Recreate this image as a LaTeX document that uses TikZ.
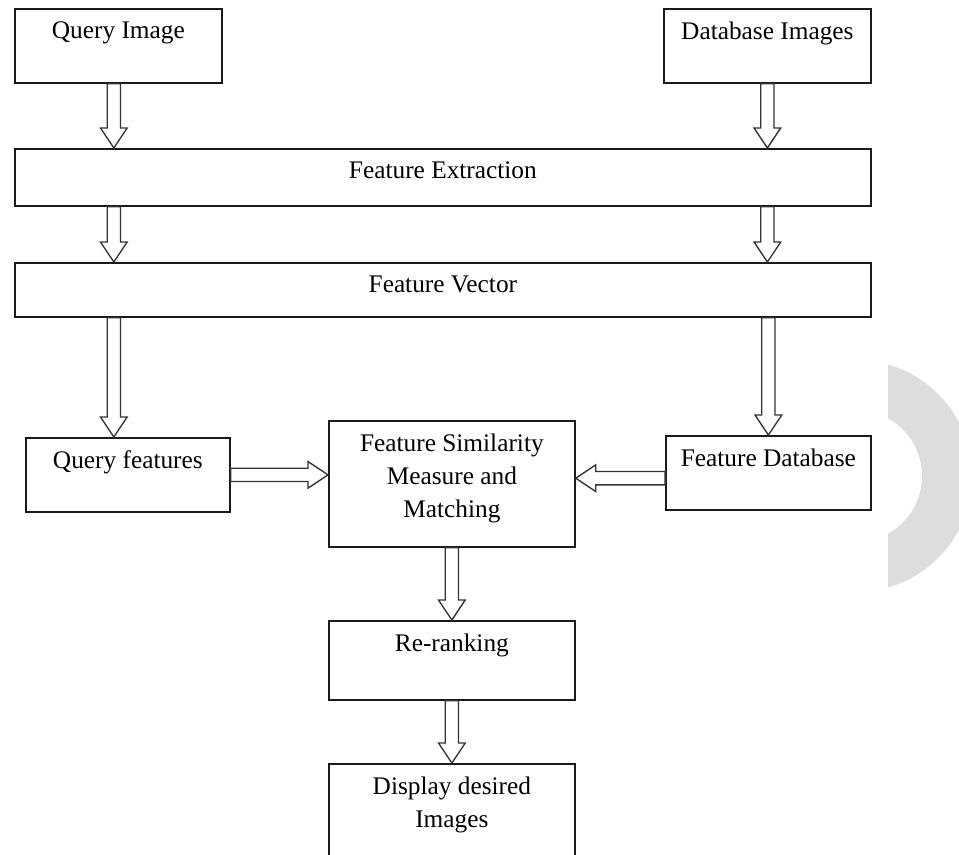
\documentclass[tikz,border=0pt]{standalone}
\usepackage{fontspec}
\setmainfont{Liberation Serif}
\usepackage{tikz}
\usetikzlibrary{calc,positioning}
\definecolor{boxline}{HTML}{1A1A1A}
\definecolor{arrowline}{HTML}{333333}
\definecolor{ring}{HTML}{DDDDDD}
\tikzset{
  box/.style    ={draw=boxline,line width=1.3pt,fill=white,anchor=north west,inner sep=0pt},
  toptext/.style={label={[anchor=north,inner sep=0pt,yshift=-10pt,align=center,
                   font=\fontsize{19}{25}\selectfont]north:#1}},
  hollow/.style ={draw=arrowline,line width=1pt,fill=white,
                  to path={let \p1=($(\tikztotarget)!15pt!(\tikztostart)$) in
                    ($(\tikztostart)!5pt!90:(\tikztotarget)$) -- ($(\p1)!5pt!90:(\tikztotarget)$)
                    -- ($(\p1)!10pt!90:(\tikztotarget)$) -- (\tikztotarget)
                    -- ($(\p1)!10pt!-90:(\tikztotarget)$) -- ($(\p1)!5pt!-90:(\tikztotarget)$)
                    -- ($(\tikztostart)!5pt!-90:(\tikztotarget)$) -- cycle}}
}
\begin{document}
\begin{tikzpicture}[x=0.75pt,y=-0.75pt]
    \useasboundingbox (0,0) rectangle (959,854);
    % grey half ring at the right edge
    \begin{scope}
      \clip (888,0) rectangle (959,854);
      \fill[ring,even odd rule] (856,476) circle[radius=116] (856,476) circle[radius=66];
    \end{scope}
    \node[box,minimum width=155.25pt,minimum height=55.5pt,toptext={Query Image}] (qimg) at (14,8) {};
    \node[box,minimum width=155.25pt,minimum height=55.5pt,toptext={Database Images}] (dbimg) at (663,8) {};
    \node[box,minimum width=642pt,minimum height=42.75pt,toptext={Feature Extraction}] (fe) at (14,148) {};
    \node[box,minimum width=642pt,minimum height=40.5pt,toptext={Feature Vector}] (fv) at (14,262) {};
    \node[box,minimum width=153pt,minimum height=55.5pt,toptext={Query features}] (qf) at (25,437) {};
    \node[box,minimum width=184.5pt,minimum height=94.5pt,
          toptext={Feature Similarity\\Measure and\\Matching}] (fsm) at (328,420) {};
    \node[box,minimum width=153.75pt,minimum height=55.5pt,toptext={Feature Database}] (fdb) at (665,435) {};
    \node[box,minimum width=184.5pt,minimum height=59.25pt,toptext={Re-ranking}] (rr) at (328,620) {};
    \node[box,minimum width=184.5pt,minimum height=75pt,toptext={Display desired\\Images}] (disp) at (328,763) {};
    \coordinate (lcol) at ([xshift=-3.4pt]qimg.south);
    \draw[hollow] (lcol) to (lcol |- fe.north);
    \draw[hollow] (dbimg.south) to (dbimg.south |- fe.north);
    \draw[hollow] (lcol |- fe.south) to (lcol |- fv.north);
    \draw[hollow] (dbimg.south |- fe.south) to (dbimg.south |- fv.north);
    \draw[hollow] (lcol |- fv.south) to (lcol |- qf.north);
    \draw[hollow] (fdb.north |- fv.south) to (fdb.north);
    \draw[hollow] (qf.east) to (qf.east -| fsm.west);
    \draw[hollow] ([yshift=-4pt]fdb.west) to ([yshift=-4pt]fdb.west -| fsm.east);
    \draw[hollow] (fsm.south) to (rr.north);
    \draw[hollow] (rr.south) to (disp.north);
\end{tikzpicture}
\end{document}
